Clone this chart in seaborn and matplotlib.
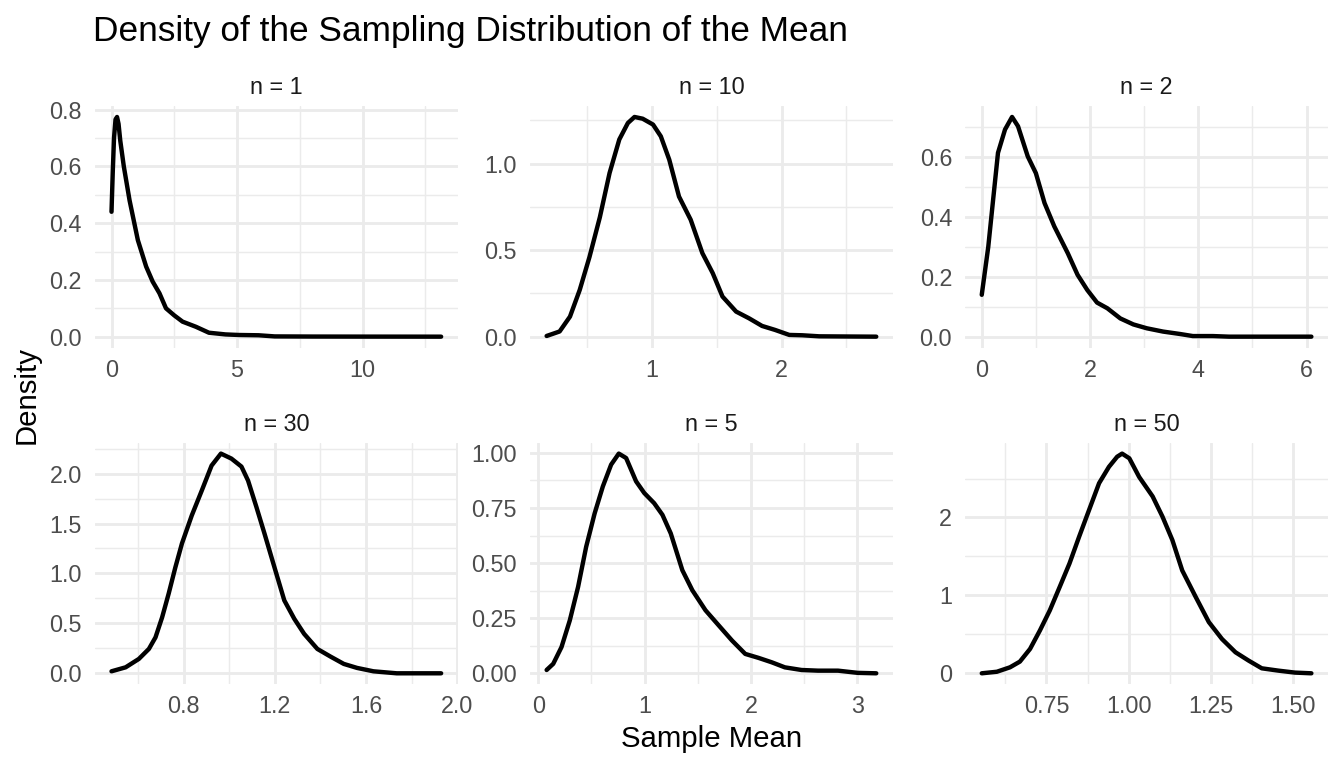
import matplotlib

matplotlib.use("Agg")
import matplotlib.pyplot as plt
import numpy as np
import pandas as pd
import seaborn as sns
from matplotlib.ticker import FormatStrFormatter, MultipleLocator

# facet order as in the reference (string sort of the labels)
panel_order = ["n = 1", "n = 10", "n = 2", "n = 30", "n = 5", "n = 50"]

n1_x = [0.0, 0.05, 0.1, 0.16, 0.22, 0.28, 0.35, 0.49, 0.72, 1.05, 1.38, 1.64,
        1.91, 2.17, 2.5, 2.83, 3.36, 3.88, 4.54, 5.07, 5.86, 6.5, 8.0, 10.0,
        12.0, 13.13]
n1_y = [0.44, 0.58, 0.70, 0.765, 0.774, 0.75, 0.69, 0.60, 0.48, 0.34, 0.247,
        0.194, 0.153, 0.10, 0.075, 0.053, 0.035, 0.014, 0.008, 0.006, 0.005,
        0.001, 0.0005, 0.0003, 0.0002, 0.0001]

n10_x = [0.19, 0.29, 0.37, 0.445, 0.52, 0.60, 0.675, 0.75, 0.816, 0.867, 0.93,
         1.01, 1.07, 1.135, 1.21, 1.30, 1.39, 1.47, 1.545, 1.65, 1.75, 1.85,
         1.95, 2.06, 2.16, 2.29, 2.5, 2.73]
n10_y = [0.004, 0.03, 0.116, 0.27, 0.46, 0.69, 0.946, 1.14, 1.235, 1.27, 1.26,
         1.226, 1.158, 1.023, 0.81, 0.676, 0.483, 0.367, 0.232, 0.145, 0.106,
         0.062, 0.039, 0.01, 0.008, 0.002, 0.001, 0.0]

n2_x = [0.0, 0.12, 0.21, 0.30, 0.43, 0.56, 0.67, 0.85, 1.0, 1.16, 1.34, 1.59,
        1.77, 1.95, 2.13, 2.32, 2.56, 2.80, 3.05, 3.35, 3.66, 3.9, 4.27, 4.57,
        5.2, 6.09]
n2_y = [0.14, 0.30, 0.458, 0.615, 0.693, 0.735, 0.704, 0.603, 0.547, 0.447,
        0.369, 0.279, 0.207, 0.156, 0.114, 0.095, 0.061, 0.041, 0.028, 0.017,
        0.009, 0.002, 0.002, 0.0, 0.0, 0.0]

n30_x = [0.484, 0.546, 0.604, 0.648, 0.677, 0.706, 0.735, 0.764, 0.793, 0.836,
         0.88, 0.923, 0.964, 1.01, 1.054, 1.083, 1.119, 1.155, 1.199, 1.242,
         1.286, 1.329, 1.387, 1.445, 1.503, 1.561, 1.633, 1.735, 1.93]
n30_y = [0.02, 0.06, 0.144, 0.244, 0.36, 0.56, 0.80, 1.06, 1.30, 1.58, 1.83,
         2.08, 2.2, 2.15, 2.07, 1.93, 1.67, 1.40, 1.06, 0.73, 0.545, 0.395,
         0.244, 0.167, 0.094, 0.054, 0.02, 0.0, 0.0]

n5_x = [0.078, 0.14, 0.218, 0.296, 0.374, 0.45, 0.53, 0.607, 0.685, 0.757,
        0.826, 0.92, 0.997, 1.09, 1.168, 1.246, 1.355, 1.449, 1.573, 1.698,
        1.822, 1.947, 2.072, 2.196, 2.32, 2.477, 2.632, 2.82, 3.006, 3.18]
n5_y = [0.015, 0.043, 0.119, 0.24, 0.392, 0.574, 0.726, 0.848, 0.947, 0.997,
        0.977, 0.871, 0.818, 0.772, 0.719, 0.635, 0.468, 0.377, 0.286, 0.217,
        0.149, 0.088, 0.07, 0.05, 0.027, 0.015, 0.012, 0.012, 0.002, 0.0]

n50_x = [0.553, 0.599, 0.639, 0.669, 0.70, 0.73, 0.76, 0.79, 0.82, 0.849,
         0.879, 0.91, 0.94, 0.965, 0.98, 1.002, 1.032, 1.073, 1.103, 1.133,
         1.163, 1.204, 1.244, 1.284, 1.325, 1.365, 1.405, 1.456, 1.506, 1.556]
n50_y = [0.0, 0.02, 0.077, 0.15, 0.313, 0.55, 0.807, 1.107, 1.41, 1.75, 2.09,
         2.44, 2.65, 2.78, 2.82, 2.76, 2.52, 2.27, 2.01, 1.71, 1.32, 0.98,
         0.657, 0.44, 0.27, 0.163, 0.064, 0.034, 0.009, 0.0]

curves = {
    "n = 1": (n1_x, n1_y),
    "n = 10": (n10_x, n10_y),
    "n = 2": (n2_x, n2_y),
    "n = 30": (n30_x, n30_y),
    "n = 5": (n5_x, n5_y),
    "n = 50": (n50_x, n50_y),
}

# (x major, x minor, x fmt, y major, y minor, y fmt)
axis_specs = {
    "n = 1": (5, 2.5, "%d", 0.2, 0.1, "%.1f"),
    "n = 10": (1, 0.5, "%d", 0.5, 0.25, "%.1f"),
    "n = 2": (2, 1, "%d", 0.2, 0.1, "%.1f"),
    "n = 30": (0.4, 0.2, "%.1f", 0.5, 0.25, "%.1f"),
    "n = 5": (1, 0.5, "%d", 0.25, 0.125, "%.2f"),
    "n = 50": (0.25, 0.125, "%.2f", 1, 0.5, "%d"),
}

df = pd.concat(
    [
        pd.DataFrame({"panel": name, "x": xs, "density": ys})
        for name, (xs, ys) in curves.items()
    ],
    ignore_index=True,
)

sns.set_theme(style="white")
plt.rcParams["font.family"] = ["Liberation Sans", "DejaVu Sans"]

GRID = "#EBEBEB"

g = sns.FacetGrid(
    df,
    col="panel",
    col_wrap=3,
    col_order=panel_order,
    sharex=False,
    sharey=False,
    height=2.5,
    aspect=1.2,
)
g.map_dataframe(
    sns.lineplot,
    x="x",
    y="density",
    color="black",
    linewidth=2.2,
    estimator=None,
)
g.set_titles("{col_name}", size=11.7, color="#1A1A1A", pad=6.0)
g.set_axis_labels("", "")

fig = g.figure
fig.set_size_inches(1344 / 144, 768 / 144)
fig.subplots_adjust(left=0.0707, right=0.988, top=0.862, bottom=0.109,
                    wspace=0.2, hspace=0.393)

for name, ax in g.axes_dict.items():
    xs, ys = curves[name]
    x0, x1 = min(xs), max(xs)
    y0, y1 = min(ys), max(ys)
    ax.set_xlim(x0 - 0.05 * (x1 - x0), x1 + 0.05 * (x1 - x0))
    ax.set_ylim(y0 - 0.05 * (y1 - y0), y1 + 0.05 * (y1 - y0))
    xmaj, xmin, xfmt, ymaj, ymin, yfmt = axis_specs[name]
    ax.xaxis.set_major_locator(MultipleLocator(xmaj))
    ax.xaxis.set_minor_locator(MultipleLocator(xmin))
    ax.xaxis.set_major_formatter(FormatStrFormatter(xfmt))
    ax.yaxis.set_major_locator(MultipleLocator(ymaj))
    ax.yaxis.set_minor_locator(MultipleLocator(ymin))
    ax.yaxis.set_major_formatter(FormatStrFormatter(yfmt))
    ax.grid(which="major", color=GRID, linewidth=1.42)
    ax.grid(which="minor", color=GRID, linewidth=0.71)
    ax.set_axisbelow(True)
    ax.tick_params(which="both", length=0, labelsize=11.7,
                   labelcolor="#4D4D4D")
    ax.tick_params(axis="x", pad=5.5)
    ax.tick_params(axis="y", pad=6.6)
    ax.tick_params(axis="both", labelbottom=True, labelleft=True)
    for spine in ax.spines.values():
        spine.set_visible(False)
    for line in ax.get_lines():
        line.set_solid_joinstyle("round")

fig.text(93 / 1344, 1 - 41 / 768,
         "Density of the Sampling Distribution of the Mean",
         fontsize=17.6, color="black", ha="left", va="baseline")
fig.text(711.5 / 1344, 1 - 747 / 768, "Sample Mean",
         fontsize=14.7, color="black", ha="center", va="baseline")
fig.text(27 / 1344, 1 - 395 / 768, "Density", rotation=90,
         fontsize=14.7, color="black", ha="center", va="center")

fig.savefig("out.png", dpi=144)
